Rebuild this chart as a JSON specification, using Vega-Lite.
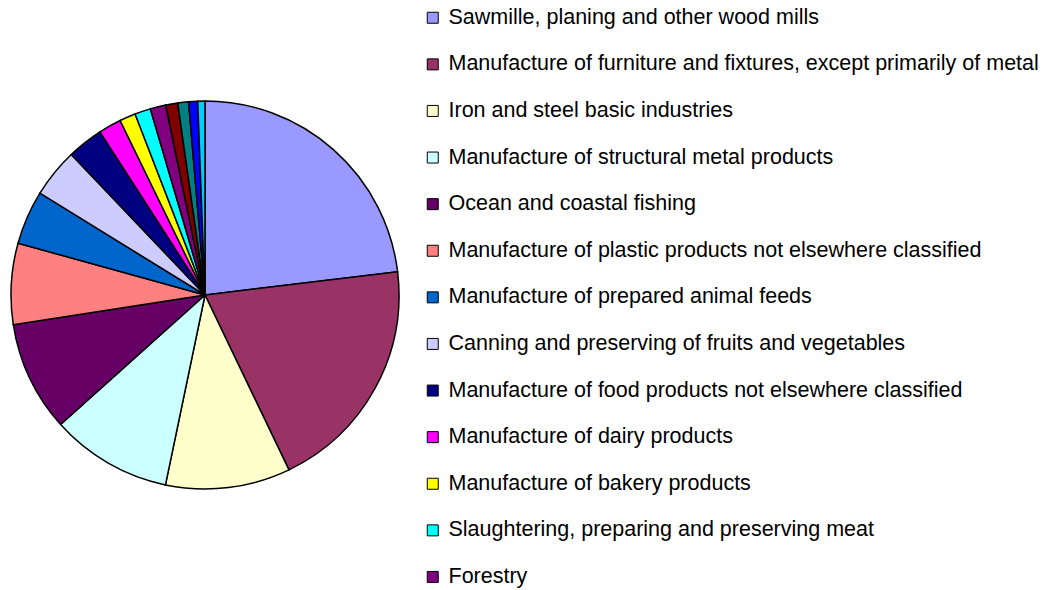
{
  "$schema": "https://vega.github.io/schema/vega-lite/v6.json",
  "width": 410,
  "height": 590,
  "padding": 0,
  "background": "white",
  "view": {"stroke": null},
  "data": {
    "values": [
      {"industry": "Sawmille, planing and other wood mills", "share": 23.1},
      {"industry": "Manufacture of furniture and fixtures, except primarily of metal", "share": 19.8},
      {"industry": "Iron and steel basic industries", "share": 10.4},
      {"industry": "Manufacture of structural metal products", "share": 10.1},
      {"industry": "Ocean and coastal fishing", "share": 9.2},
      {"industry": "Manufacture of plastic products not elsewhere classified", "share": 6.75},
      {"industry": "Manufacture of prepared animal feeds", "share": 4.5},
      {"industry": "Canning and preserving of fruits and vegetables", "share": 4.1},
      {"industry": "Manufacture of food products not elsewhere classified", "share": 3.0},
      {"industry": "Manufacture of dairy products", "share": 1.9},
      {"industry": "Manufacture of bakery products", "share": 1.34},
      {"industry": "Slaughtering, preparing and preserving meat", "share": 1.32},
      {"industry": "Forestry", "share": 1.3},
      {"industry": "Other industry 1", "share": 1.0},
      {"industry": "Other industry 2", "share": 0.9},
      {"industry": "Other industry 3", "share": 0.75},
      {"industry": "Other industry 4", "share": 0.6}
    ]
  },
  "mark": {"type": "arc", "outerRadius": 194, "stroke": "black", "strokeWidth": 1.5},
  "encoding": {
    "theta": {"field": "share", "type": "quantitative", "stack": true},
    "order": {"field": "share", "type": "quantitative", "sort": "descending"},
    "color": {
      "field": "industry",
      "type": "nominal",
      "sort": null,
      "scale": {
        "domain": [
          "Sawmille, planing and other wood mills",
          "Manufacture of furniture and fixtures, except primarily of metal",
          "Iron and steel basic industries",
          "Manufacture of structural metal products",
          "Ocean and coastal fishing",
          "Manufacture of plastic products not elsewhere classified",
          "Manufacture of prepared animal feeds",
          "Canning and preserving of fruits and vegetables",
          "Manufacture of food products not elsewhere classified",
          "Manufacture of dairy products",
          "Manufacture of bakery products",
          "Slaughtering, preparing and preserving meat",
          "Forestry",
          "Other industry 1",
          "Other industry 2",
          "Other industry 3",
          "Other industry 4"
        ],
        "range": ["#9999FF", "#993366", "#FFFFCC", "#CCFFFF", "#660066", "#FF8080", "#0066CC", "#CCCCFF", "#000080", "#FF00FF", "#FFFF00", "#00FFFF", "#800080", "#800000", "#008080", "#0000FF", "#00CCFF"]
      },
      "legend": {
        "orient": "none",
        "legendX": 422,
        "legendY": 7,
        "title": null,
        "values": [
          "Sawmille, planing and other wood mills",
          "Manufacture of furniture and fixtures, except primarily of metal",
          "Iron and steel basic industries",
          "Manufacture of structural metal products",
          "Ocean and coastal fishing",
          "Manufacture of plastic products not elsewhere classified",
          "Manufacture of prepared animal feeds",
          "Canning and preserving of fruits and vegetables",
          "Manufacture of food products not elsewhere classified",
          "Manufacture of dairy products",
          "Manufacture of bakery products",
          "Slaughtering, preparing and preserving meat",
          "Forestry"
        ],
        "symbolType": "square",
        "symbolSize": 121,
        "symbolStrokeColor": "black",
        "symbolStrokeWidth": 1,
        "symbolOpacity": 1,
        "labelFont": "Liberation Sans",
        "labelFontSize": 21.5,
        "labelColor": "black",
        "labelOffset": 5,
        "labelLimit": 700,
        "rowPadding": 23.6,
        "padding": 0
      }
    }
  }
}
